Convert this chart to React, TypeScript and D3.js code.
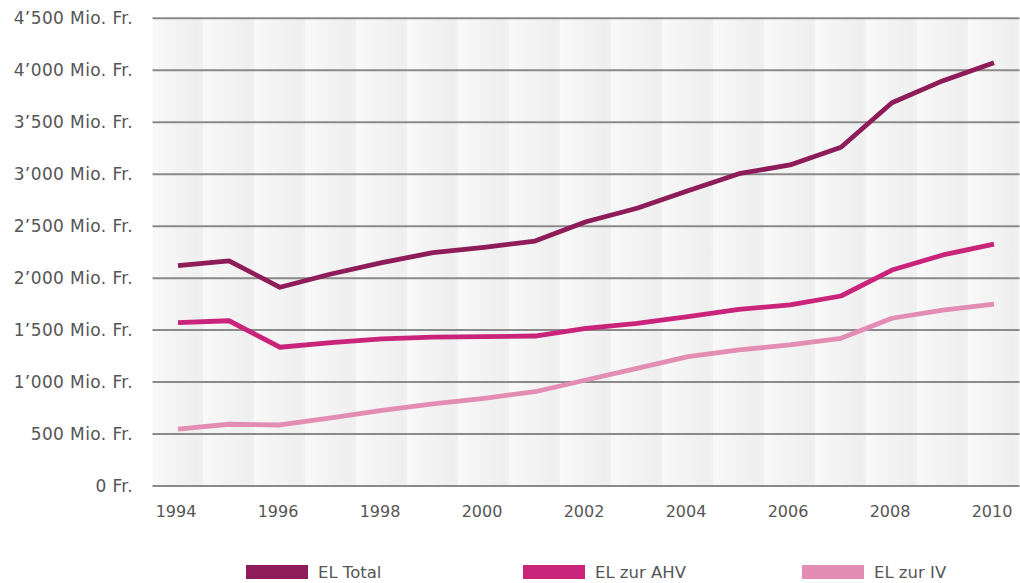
import React from 'react';
import * as d3 from 'd3';

const years = [1994, 1995, 1996, 1997, 1998, 1999, 2000, 2001, 2002, 2003, 2004, 2005, 2006, 2007, 2008, 2009, 2010];
const elTotal = [2120, 2165, 1912, 2040, 2150, 2245, 2297, 2357, 2543, 2672, 2841, 3005, 3089, 3259, 3688, 3900, 4073];
const elAhv = [1571, 1590, 1335, 1380, 1415, 1432, 1437, 1443, 1517, 1565, 1629, 1700, 1742, 1828, 2078, 2223, 2328];
const elIv = [548, 594, 587, 655, 728, 790, 844, 907, 1020, 1132, 1244, 1309, 1357, 1421, 1614, 1693, 1751];

const yTicks = [0, 500, 1000, 1500, 2000, 2500, 3000, 3500, 4000, 4500];
const xTicks = [1994, 1996, 1998, 2000, 2002, 2004, 2006, 2008, 2010];

const series = [
  { name: 'EL Total', values: elTotal, color: '#8d1c59' },
  { name: 'EL zur AHV', values: elAhv, color: '#c9237a' },
  { name: 'EL zur IV', values: elIv, color: '#e38db4' },
];
const legendX = [246, 523, 802];

const font = '"DejaVu Sans", sans-serif';

function fmtTick(v: number) {
  if (v === 0) return '0 Fr.';
  const s = String(v);
  const t = s.length > 3 ? s.slice(0, s.length - 3) + '\u2019' + s.slice(-3) : s;
  return `${t} Mio. Fr.`;
}

export default function App() {
  const x = d3.scaleLinear().domain([1994, 2010]).range([178, 994]);
  const y = d3.scaleLinear().domain([0, 4500]).range([486, 18.3]);
  const half = (x(1995) - x(1994)) / 2;

  const line = d3.line<number>()
    .x((_, i) => x(years[i]))
    .y(d => y(d));

  return (
    <svg width={1020} height={583} style={{ position: 'absolute', left: 0, top: 0, background: '#fff' }}>
      <defs>
        <linearGradient id="band" x1="0" x2="1" y1="0" y2="0">
          <stop offset="0%" stopColor="#f9f9f9" />
          <stop offset="20%" stopColor="#f6f6f6" />
          <stop offset="88%" stopColor="#efefef" />
          <stop offset="100%" stopColor="#f1f1f1" />
        </linearGradient>
      </defs>

      {/* background bands, one per year */}
      {years.map(yr => (
        <rect key={yr} x={x(yr) - half} y={y(4500)} width={half * 2} height={y(0) - y(4500)} fill="url(#band)" />
      ))}

      {/* gridlines + y labels */}
      {yTicks.map(t => (
        <g key={t}>
          <line x1={x(1994) - half} x2={x(2010) + half} y1={y(t)} y2={y(t)} stroke="#8a8a8a" strokeWidth={2} />
          <text x={133} y={y(t)} dy="0.36em" textAnchor="end" fontFamily={font} fontSize={17} letterSpacing={0.4} fill="#555">
            {fmtTick(t)}
          </text>
        </g>
      ))}

      {/* x labels */}
      {xTicks.map(t => (
        <text key={t} x={x(t) - 2} y={517} textAnchor="middle" fontFamily={font} fontSize={16} fill="#555">
          {t}
        </text>
      ))}

      {/* lines */}
      {series.map(s => (
        <path key={s.name} d={line(s.values) || ''} fill="none" stroke={s.color} strokeWidth={4.8} strokeLinejoin="round" />
      ))}

      {/* legend */}
      {series.map((s, i) => (
        <g key={s.name} transform={`translate(${legendX[i]},565)`}>
          <rect x={0} y={0} width={62} height={14} fill={s.color} />
          <text x={72} y={13} fontFamily={font} fontSize={16.5} fill="#555">{s.name}</text>
        </g>
      ))}
    </svg>
  );
}
